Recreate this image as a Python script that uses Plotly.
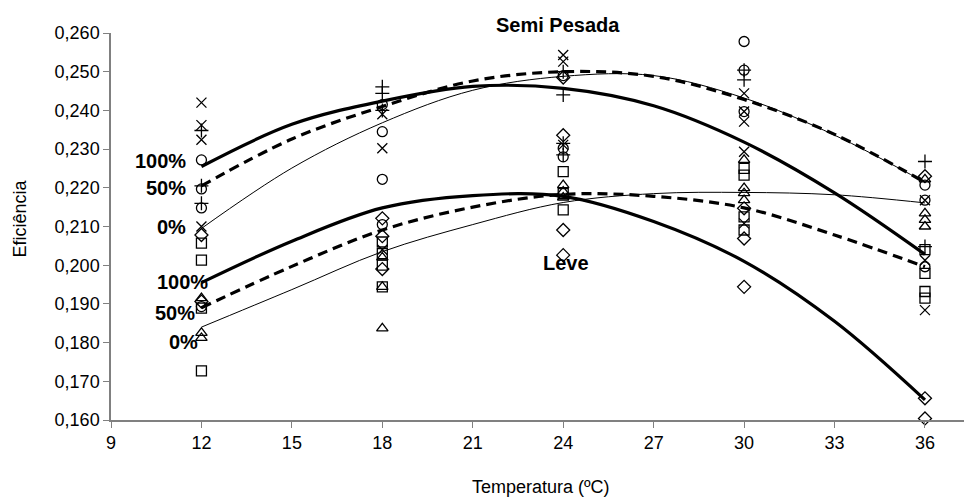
import plotly.graph_objects as go

# Temperatures of the fitted curves
curve_temps = [12, 15, 18, 21, 24, 27, 30, 33, 36]
sp_100 = [0.2255, 0.2364, 0.2424, 0.2462, 0.2457, 0.2412, 0.2318, 0.2187, 0.2028]
sp_50 = [0.2205, 0.2326, 0.2410, 0.2476, 0.2500, 0.2488, 0.2428, 0.2338, 0.2214]
sp_0 = [0.2095, 0.2251, 0.2368, 0.2452, 0.2488, 0.2490, 0.2432, 0.2336, 0.2214]
lv_100 = [0.1955, 0.2062, 0.2148, 0.2180, 0.2178, 0.2113, 0.2010, 0.1855, 0.1652]
lv_50 = [0.1890, 0.1997, 0.2091, 0.2150, 0.2183, 0.2178, 0.2148, 0.2078, 0.1996]
lv_0 = [0.1840, 0.1937, 0.2035, 0.2105, 0.2162, 0.2185, 0.2188, 0.2182, 0.2161]

# Observed points by marker type
x_pts_t = [12, 12, 12, 12, 18, 18, 18, 24, 24, 24, 30, 30, 30, 30, 30, 36, 36, 36]
x_pts_v = [0.2420, 0.2362, 0.2324, 0.2100, 0.2390, 0.2302, 0.2040, 0.2543, 0.2526, 0.2311,
           0.2444, 0.2397, 0.2371, 0.2293, 0.2108, 0.2168, 0.2013, 0.1884]
plus_t = [12, 12, 12, 18, 18, 18, 24, 24, 24, 24, 30, 30, 36, 36]
plus_v = [0.2348, 0.2205, 0.2160, 0.2461, 0.2444, 0.2400, 0.2500, 0.2440, 0.2315, 0.2285,
          0.2504, 0.2479, 0.2268, 0.2048]
circ_t = [12, 12, 12, 12, 18, 18, 18, 18, 24, 24, 24, 30, 30, 30, 36, 36, 36]
circ_v = [0.2272, 0.2197, 0.2148, 0.1893, 0.2415, 0.2345, 0.2222, 0.2105, 0.2490, 0.2302,
          0.2280, 0.2578, 0.2504, 0.2397, 0.2207, 0.2168, 0.1996]
sq_t = [12, 12, 12, 12, 18, 18, 18, 18, 24, 24, 24, 30, 30, 30, 30, 36, 36, 36, 36]
sq_v = [0.2057, 0.2013, 0.1889, 0.1727, 0.2060, 0.2030, 0.2000, 0.1944, 0.2242, 0.2185,
        0.2143, 0.2250, 0.2233, 0.2125, 0.2091, 0.2040, 0.1979, 0.1932, 0.1915]
dia_t = [12, 12, 18, 18, 18, 24, 24, 24, 24, 30, 30, 30, 36, 36, 36]
dia_v = [0.2078, 0.1906, 0.2121, 0.2075, 0.1990, 0.2336, 0.2091, 0.2026, 0.2485, 0.2147,
         0.2069, 0.1944, 0.2230, 0.1656, 0.1604]
tri_t = [12, 12, 12, 18, 18, 18, 24, 24, 24, 30, 30, 30, 30, 36, 36, 36, 36]
tri_v = [0.1915, 0.1825, 0.1812, 0.2020, 0.1944, 0.1837, 0.2207, 0.2190, 0.2175, 0.2272,
         0.2199, 0.2186, 0.2168, 0.2222, 0.2134, 0.2117, 0.2100]

x_ticks = [9, 12, 15, 18, 21, 24, 27, 30, 33, 36]
y_ticks = [0.16, 0.17, 0.18, 0.19, 0.20, 0.21, 0.22, 0.23, 0.24, 0.25, 0.26]

FONT = "Liberation Sans, Arial, sans-serif"
fig = go.Figure()

def markers(t, v, sym):
    fig.add_trace(go.Scatter(
        x=t, y=v, mode="markers", showlegend=False, cliponaxis=False,
        marker=dict(symbol=sym, size=10, color="black",
                    line=dict(color="black", width=1.3))))

markers(x_pts_t, x_pts_v, "x-thin-open")
markers(plus_t, plus_v, "cross-thin-open")
markers(circ_t, circ_v, "circle-open")
markers(sq_t, sq_v, "square-open")
markers(dia_t, dia_v, "diamond-open")
markers(tri_t, tri_v, "triangle-up-open")

def curve(v, width, dash="solid"):
    fig.add_trace(go.Scatter(
        x=curve_temps, y=v, mode="lines", showlegend=False,
        line=dict(color="black", width=width, dash=dash, shape="spline", smoothing=1.0)))

curve(sp_0, 1)
curve(lv_0, 1)
curve(sp_50, 3.2, "10px,6px")
curve(lv_50, 3.2, "10px,6px")
curve(sp_100, 3.2)
curve(lv_100, 3.2)

bold = dict(family=FONT, size=20, color="black")
labels = [
    ("<b>100%</b>", 11.55, 0.2269), ("<b>50%</b>", 11.55, 0.2200), ("<b>0%</b>", 11.55, 0.2099),
    ("<b>100%</b>", 12.28, 0.1957), ("<b>50%</b>", 11.85, 0.1876), ("<b>0%</b>", 11.95, 0.1802),
]
for txt, xx, yy in labels:
    fig.add_annotation(x=xx, y=yy, text=txt, showarrow=False, xanchor="right",
                       yanchor="middle", font=bold)
fig.add_annotation(x=23.83, xref="x", yref="paper", y=(420 - 25) / 387,
                   text="<b>Semi Pesada</b>", showarrow=False,
                   xanchor="center", yanchor="middle", font=bold)
fig.add_annotation(x=24.09, y=0.2006, text="<b>Leve</b>", showarrow=False,
                   xanchor="center", yanchor="middle", font=bold)

fig.add_annotation(xref="paper", yref="paper", x=(19.5 - 111) / 861, y=(420 - 219) / 387,
                   text="Eficiência", textangle=-90, showarrow=False,
                   xanchor="center", yanchor="middle",
                   font=dict(family=FONT, size=18, color="black"))
fig.add_annotation(xref="paper", yref="paper", x=(541 - 111) / 861, y=-(487 - 420) / 387,
                   text="Temperatura (ºC)", showarrow=False,
                   xanchor="center", yanchor="middle",
                   font=dict(family=FONT, size=18, color="black"))

# page body adds an 8px offset; the figure is sized so the plot lands where the reference's does
fig.update_layout(
    width=964, height=491,
    margin=dict(l=103, r=0, t=25, b=79),
    plot_bgcolor="white", paper_bgcolor="white",
    separators=",.",
    font=dict(family=FONT, size=18, color="black"),
)
fig.update_xaxes(range=[9, 37.56], tickvals=x_ticks, ticktext=[str(t) for t in x_ticks],
                 showgrid=False, zeroline=False, showline=True, linecolor="#808080",
                 linewidth=1.5, ticks="outside", ticklen=6, tickcolor="#808080",
                 tickfont=dict(family=FONT, size=18, color="black"))
fig.update_yaxes(range=[0.16, 0.26], tickvals=y_ticks, tickformat=".3f",
                 showgrid=False, zeroline=False, showline=True, linecolor="#808080",
                 linewidth=1.5, ticks="outside", ticklen=6, tickcolor="#808080",
                 tickfont=dict(family=FONT, size=18, color="black"))

fig.write_html("out.html")
